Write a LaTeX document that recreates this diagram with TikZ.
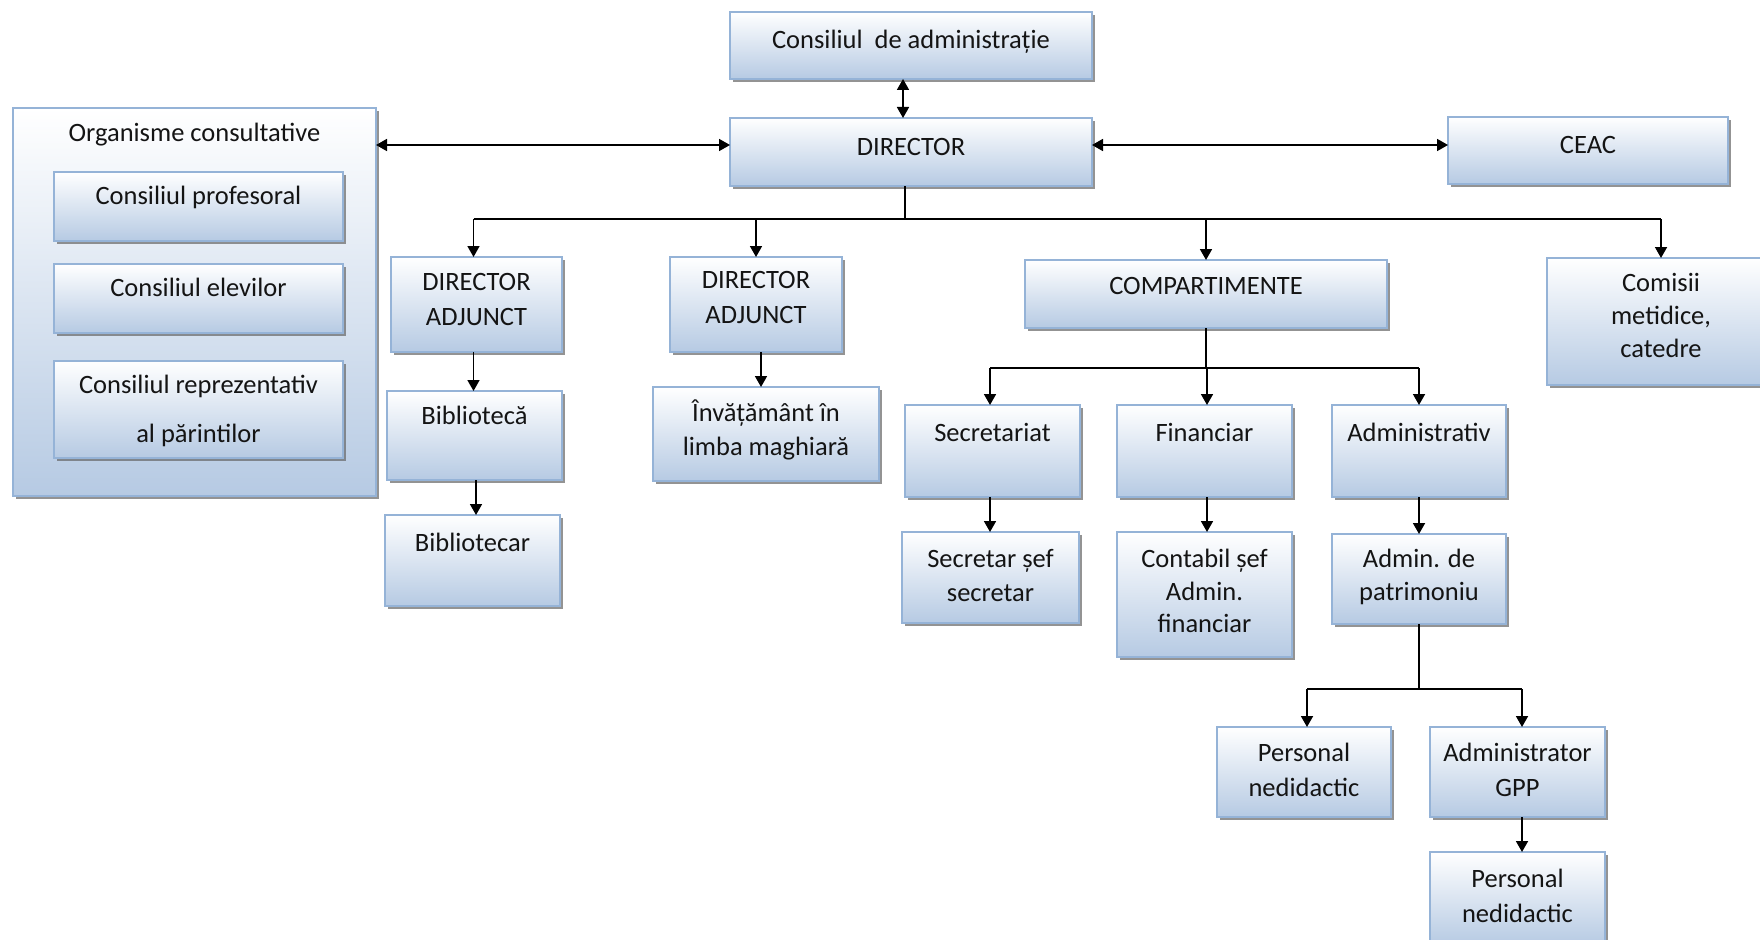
\documentclass[tikz,border=0pt]{standalone}
\usepackage{fontspec}
\setmainfont{Carlito}
\usetikzlibrary{arrows.meta,shadows}
\definecolor{bord}{HTML}{95B3D7}
\definecolor{bot}{HTML}{B6CAE3}
\definecolor{txtc}{HTML}{141414}
\newcommand\fsz{\fontsize{26.5}{34}\selectfont}
\tikzset{
 box/.style={draw=bord, line width=1.2pt, top color=white, bottom color=bot,
   drop shadow={shadow xshift=3pt, shadow yshift=-3pt, fill=black!60, opacity=0.7},
   inner sep=0pt, outer sep=0pt},
 txt/.style={inner sep=0pt, align=center, anchor=north, font=\fsz, text=txtc,
   execute at begin node=\strut},
 conn/.style={line width=1.7pt, black},
 arr/.style={conn, -{Triangle[length=11pt,width=12pt]}},
 darr/.style={conn, {Triangle[length=11pt,width=12pt]}-{Triangle[length=11pt,width=12pt]}},
}
\begin{document}
\begin{tikzpicture}[x=1pt,y=-1pt]
\path[use as bounding box, fill=white] (0,0) rectangle (1760,939);

% boxes
\node[box, minimum width=362pt, minimum height=67pt] (cda) at (911,45.5) {};
\node[txt] (cda-t) at ([yshift=-13pt]cda.north) {Consiliul~ de administrație};
\node[box, minimum width=362pt, minimum height=68pt] (dir) at (911,152) {};
\node[txt] (dir-t) at ([yshift=-13pt]dir.north) {DIRECTOR};
\node[box, minimum width=280pt, minimum height=67pt] (ceac) at (1588,150.5) {};
\node[txt] (ceac-t) at ([yshift=-12pt]ceac.north) {CEAC};

\node[box, minimum width=363pt, minimum height=388pt] (org) at (194.5,302) {};
\node[txt] (org-t) at ([yshift=-10pt]org.north) {Organisme consultative};
\node[box, minimum width=289pt, minimum height=69pt] (cp) at (198.5,206.5) {};
\node[txt] (cp-t) at ([yshift=-8.5pt]cp.north) {Consiliul profesoral};
\node[box, minimum width=289pt, minimum height=69pt] (ce) at (198.5,298.5) {};
\node[txt] (ce-t) at ([yshift=-8.5pt]ce.north) {Consiliul elevilor};
\node[box, minimum width=289pt, minimum height=97pt] (cr) at (198.5,409.5) {};
\node[txt] (cr-t) at ([yshift=-14pt]cr.north) {Consiliul reprezentativ\\[15pt]al părintilor};

\node[box, minimum width=171pt, minimum height=95pt] (da1) at (476.5,304.5) {};
\node[txt] (da1-t) at ([yshift=-16pt]da1.north) {DIRECTOR\\[1pt]ADJUNCT};
\node[box, minimum width=172pt, minimum height=95pt] (da2) at (756,304.5) {};
\node[txt] (da2-t) at ([yshift=-14pt]da2.north) {DIRECTOR\\[1pt]ADJUNCT};
\node[box, minimum width=175pt, minimum height=89pt] (bib) at (474.5,435.5) {};
\node[txt] (bib-t) at ([yshift=-9pt]bib.north) {Bibliotecă};
\node[box, minimum width=175pt, minimum height=91pt] (bibr) at (472.5,560.5) {};
\node[txt] (bibr-t) at ([yshift=-12pt]bibr.north) {Bibliotecar};
\node[box, minimum width=226pt, minimum height=94pt] (inv) at (766,434) {};
\node[txt] (inv-t) at ([yshift=-13pt]inv.north) {Învățământ în\\limba maghiară};

\node[box, minimum width=362pt, minimum height=68pt] (comp) at (1206,294) {};
\node[txt] (comp-t) at ([yshift=-10pt]comp.north) {COMPARTIMENTE};
\node[box, minimum width=228pt, minimum height=127pt] (com) at (1661,321.5) {};
\node[txt] (com-t) at ([yshift=-15pt]com.north) {Comisii\\[-1pt]metidice,\\[-1pt]catedre};

\node[box, minimum width=175pt, minimum height=92pt] (sec) at (992.5,451) {};
\node[txt] (sec-t) at ([yshift=-12pt]sec.north) {Secretariat};
\node[box, minimum width=175pt, minimum height=92pt] (fin) at (1204.5,451) {};
\node[txt] (fin-t) at ([yshift=-12pt]fin.north) {Financiar};
\node[box, minimum width=174pt, minimum height=92pt] (adm) at (1419,451) {};
\node[txt] (adm-t) at ([yshift=-12pt]adm.north) {Administrativ};

\node[box, minimum width=177pt, minimum height=91pt] (ssef) at (990.5,577.5) {};
\node[txt] (ssef-t) at ([yshift=-17pt]ssef.north) {Secretar șef\\secretar};
\node[box, minimum width=175pt, minimum height=125pt] (cont) at (1204.5,594.5) {};
\node[txt] (cont-t) at ([yshift=-17pt]cont.north) {Contabil șef\\[-1pt]Admin.\\[-2pt]financiar};
\node[box, minimum width=174pt, minimum height=90pt] (adp) at (1419,579) {};
\node[txt] (adp-t) at ([yshift=-15pt]adp.north) {Admin. de\\[-1pt]patrimoniu};

\node[box, minimum width=174pt, minimum height=90pt] (pn1) at (1304,772) {};
\node[txt] (pn1-t) at ([yshift=-16pt]pn1.north) {Personal\\[1pt]nedidactic};
\node[box, minimum width=175pt, minimum height=90pt] (gpp) at (1517.5,772) {};
\node[txt] (gpp-t) at ([yshift=-16pt]gpp.north) {Administrator\\[1pt]GPP};
\node[box, minimum width=175pt, minimum height=93pt] (pn2) at (1517.5,898.5) {};
\node[txt] (pn2-t) at ([yshift=-17pt]pn2.north) {Personal\\[1pt]nedidactic};

% connectors
\coordinate (yh) at (0,145);
\coordinate (busA) at (0,219);
\coordinate (busB) at (0,368);
\coordinate (busC) at (0,689);

\draw[darr] ([xshift=-8pt]cda.south) -- ([xshift=-8pt]dir.north);
\draw[darr] (org.east |- yh) -- (dir.west |- yh);
\draw[darr] (dir.east |- yh) -- (ceac.west |- yh);

\draw[conn] ([xshift=-6pt]dir.south) -- ([xshift=-6pt]dir.south |- busA);
\draw[conn] ([xshift=-3pt]da1.north |- busA) -- (com.north |- busA);
\draw[arr] ([xshift=-3pt]da1.north |- busA) -- ([xshift=-3pt]da1.north);
\draw[arr] (da2.north |- busA) -- (da2.north);
\draw[arr] (comp.north |- busA) -- (comp.north);
\draw[arr] (com.north |- busA) -- (com.north);

\draw[arr] ([xshift=-3pt]da1.south) -- ([xshift=-3pt]da1.south |- bib.north);
\draw[arr] ([xshift=1.5pt]bib.south) -- ([xshift=1.5pt]bib.south |- bibr.north);
\draw[arr] ([xshift=5pt]da2.south) -- ([xshift=5pt]da2.south |- inv.north);

\draw[conn] (comp.south) -- (comp.south |- busB);
\draw[conn] ([xshift=-2.5pt]sec.north |- busB) -- (adm.north |- busB);
\draw[arr] ([xshift=-2.5pt]sec.north |- busB) -- ([xshift=-2.5pt]sec.north);
\draw[arr] ([xshift=2.5pt]fin.north |- busB) -- ([xshift=2.5pt]fin.north);
\draw[arr] (adm.north |- busB) -- (adm.north);

\draw[arr] ([xshift=-2.5pt]sec.south) -- ([xshift=-2.5pt]sec.south |- ssef.north);
\draw[arr] ([xshift=2.5pt]fin.south) -- ([xshift=2.5pt]fin.south |- cont.north);
\draw[arr] (adm.south) -- (adm.south |- adp.north);

\draw[conn] (adp.south) -- (adp.south |- busC);
\draw[conn] ([xshift=3pt]pn1.north |- busC) -- ([xshift=4.5pt]gpp.north |- busC);
\draw[arr] ([xshift=3pt]pn1.north |- busC) -- ([xshift=3pt]pn1.north);
\draw[arr] ([xshift=4.5pt]gpp.north |- busC) -- ([xshift=4.5pt]gpp.north);
\draw[arr] ([xshift=4.5pt]gpp.south) -- ([xshift=4.5pt]gpp.south |- pn2.north);
\end{tikzpicture}
\end{document}
